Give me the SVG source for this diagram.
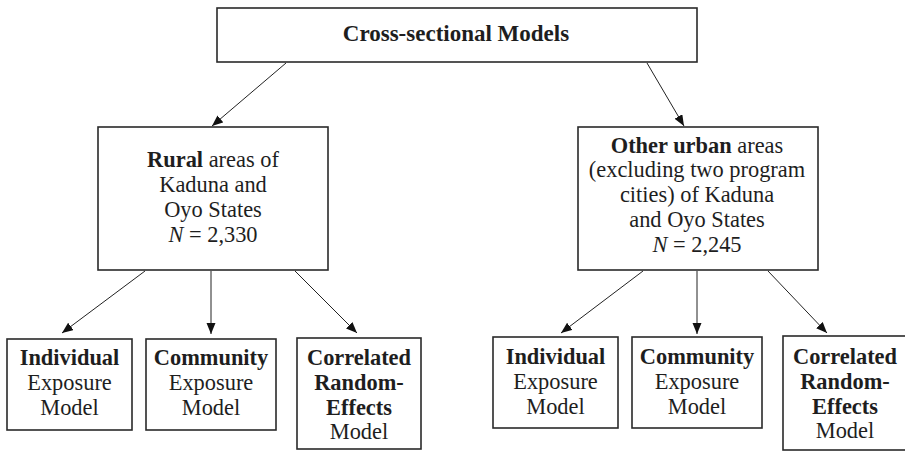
<svg xmlns="http://www.w3.org/2000/svg" width="905" height="451" viewBox="0 0 905 451">
<style>
.box{fill:#fff;stroke:#2a2a2a;stroke-width:1.6}
text{font-family:'Liberation Serif','DejaVu Serif',serif;font-size:22.4px;fill:#1e1e1e;text-anchor:middle}
.b{font-weight:bold}
.i{font-style:italic}
.title{font-size:23px}
.c{stroke:#222;stroke-width:1;fill:none;marker-end:url(#ah)}
</style>
<defs>
<marker id="ah" markerUnits="userSpaceOnUse" markerWidth="12" markerHeight="10" refX="11" refY="4.5" orient="auto">
<path d="M0,0 L11,4.5 L0,9 z" fill="#111"/>
</marker>
</defs>
<rect width="905" height="451" fill="#fff"/>
<g id="connectors">
<line class="c" x1="286" y1="63" x2="212" y2="126"/>
<line class="c" x1="647" y1="63" x2="684" y2="126"/>
<line class="c" x1="145" y1="271" x2="62" y2="333"/>
<line class="c" x1="211" y1="271" x2="211" y2="334"/>
<line class="c" x1="295" y1="271" x2="357" y2="333"/>
<line class="c" x1="643" y1="271" x2="561" y2="333"/>
<line class="c" x1="697" y1="271" x2="697" y2="334"/>
<line class="c" x1="768" y1="271" x2="827" y2="333"/>
</g>
<g id="top">
<rect class="box" x="217" y="8" width="480" height="54"/>
<text class="b title" x="456" y="41">Cross-sectional Models</text>
</g>
<g id="rural">
<rect class="box" x="98" y="127" width="230" height="143"/>
<text x="213" y="167"><tspan class="b">Rural</tspan> areas of</text>
<text x="213" y="192">Kaduna and</text>
<text x="213" y="217">Oyo States</text>
<text x="213" y="242"><tspan class="i">N</tspan> = 2,330</text>
</g>
<g id="urban">
<rect class="box" x="578" y="127" width="240" height="143"/>
<text x="697" y="153"><tspan class="b">Other urban</tspan> areas</text>
<text x="697" y="177">(excluding two program</text>
<text x="697" y="202">cities) of Kaduna</text>
<text x="697" y="227">and Oyo States</text>
<text x="697" y="252"><tspan class="i">N</tspan> = 2,245</text>
</g>
<g id="rural-individual">
<rect class="box" x="7" y="339" width="125" height="91"/>
<text class="b" x="69.5" y="365">Individual</text>
<text x="69.5" y="390">Exposure</text>
<text x="69.5" y="415">Model</text>
</g>
<g id="rural-community">
<rect class="box" x="146" y="339" width="130" height="91"/>
<text class="b" x="211" y="365">Community</text>
<text x="211" y="390">Exposure</text>
<text x="211" y="415">Model</text>
</g>
<g id="rural-correlated">
<rect class="box" x="297" y="338" width="124" height="111"/>
<text class="b" x="359" y="365">Correlated</text>
<text class="b" x="359" y="390">Random-</text>
<text class="b" x="359" y="415">Effects</text>
<text x="359" y="439">Model</text>
</g>
<g id="urban-individual">
<rect class="box" x="493" y="337" width="125" height="91"/>
<text class="b" x="555.5" y="364">Individual</text>
<text x="555.5" y="389">Exposure</text>
<text x="555.5" y="414">Model</text>
</g>
<g id="urban-community">
<rect class="box" x="632" y="337" width="130" height="91"/>
<text class="b" x="697" y="364">Community</text>
<text x="697" y="389">Exposure</text>
<text x="697" y="414">Model</text>
</g>
<g id="urban-correlated">
<rect class="box" x="783" y="336" width="140" height="114"/>
<text class="b" x="845" y="364">Correlated</text>
<text class="b" x="845" y="389">Random-</text>
<text class="b" x="845" y="414">Effects</text>
<text x="845" y="438">Model</text>
</g>
</svg>
